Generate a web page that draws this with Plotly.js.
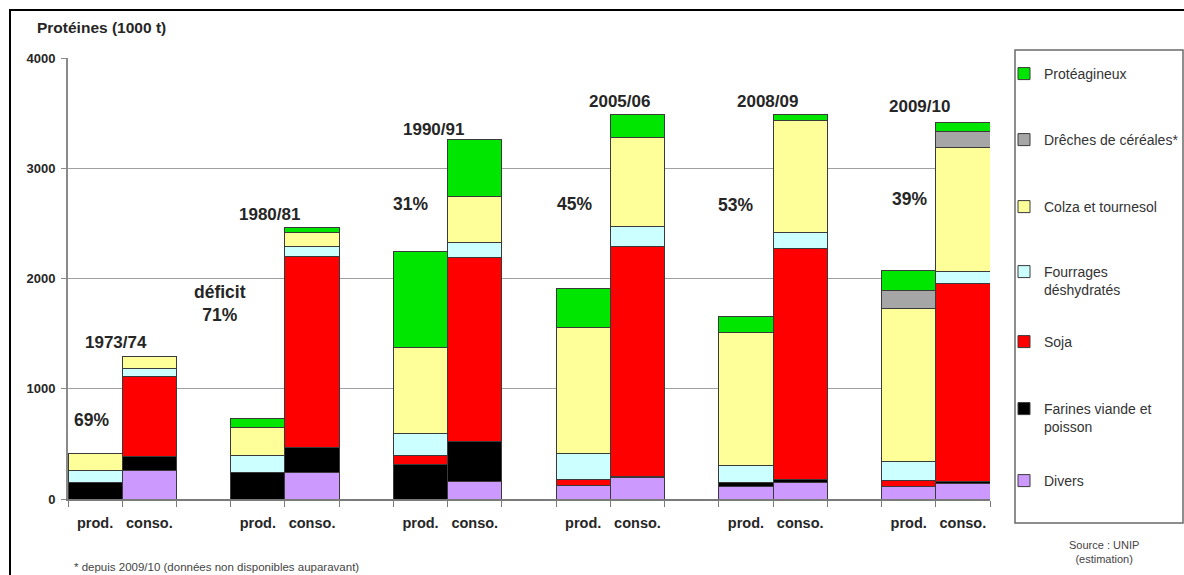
<!DOCTYPE html>
<html>
<head>
<meta charset="utf-8">
<script src="https://cdn.plot.ly/plotly-3.0.1.min.js"></script>
<style>html,body{margin:0;padding:0;background:#fff;}#chart{width:1184px;height:575px;}</style>
</head>
<body>
<div id="chart"></div>
<script>
// ---- data (order of bars: prod, conso for each campaign) ----
const groups = ['1973/74', '1980/81', '1990/91', '2005/06', '2008/09', '2009/10'];
const sides = ['prod.', 'conso.'];
const percents = ['69%', 'déficit<br>71%', '31%', '45%', '53%', '39%'];

const divers       = [null, 261, null, 242, null, 161, 118, 192, 111, 152, 116, 141];
const farines      = [147, 127, 243, 228, 313, 358, null, 15, 41, 25, null, 18];
const soja         = [null, 725, null, 1731, 81, 1668, 59, 2085, null, 2094, 52, 1795];
const fourrages    = [114, 70, 151, 91, 197, 136, 235, 181, 152, 142, 169, 111];
const colza        = [151, 112, 251, 121, 780, 417, 1140, 802, 1203, 1021, 1387, 1125];
const dreches      = [null, null, null, null, null, null, null, null, null, null, 169, 139];
const proteagineux = [null, null, 82, 46, 876, 519, 354, 211, 145, 52, 181, 82];

const seriesNames = ['Divers', 'Farines viande et<br>poisson', 'Soja', 'Fourrages<br>déshydratés',
                     'Colza et tournesol', 'Drêches de céréales*', 'Protéagineux'];
const seriesValues = [divers, farines, soja, fourrages, colza, dreches, proteagineux];
const seriesColors = ['#CC99FF', '#000000', '#FF0000', '#CCFFFF', '#FFFF99', '#A6A6A6', '#00E600'];

// ---- layout helpers ----
const W = 1184, H = 575, L = 68, R = 194, T = 58, B = 76;
const PW = W - L - R, PH = H - T - B;
const px2x = px => (px - L) / PW;          // paper x from pixel
const py2y = py => (H - B - py) / PH;      // paper y from pixel

const slot = (i) => 3 * Math.floor(i / 2) + (i % 2);   // category index of bar i
const xs = divers.map((_, i) => slot(i));
const tickText = xs.map((_, i) => sides[i % 2]);
const boundaries = [];
for (let k = 0; k <= 17; k++) boundaries.push(k - 0.5);

const FONT = '"Liberation Sans", Arial, sans-serif';

// first-line vertical position (px) of each legend entry: Divers ... Protéagineux
const legendLines = [481, 409, 342, 272, 207, 140, 74];
const traces = seriesValues.map((vals, k) => ({
  type: 'bar',
  x: xs,
  y: vals,
  name: seriesNames[k],
  width: 1,
  marker: {color: seriesColors[k], line: {color: '#3a3a3a', width: 1}},
  legend: k === 0 ? 'legend' : 'legend' + (k + 1),
  showlegend: true,
  hoverinfo: 'name+y'
}));

const layout = {
  width: W, height: H,
  showlegend: true,
  margin: {l: L, r: R, t: T, b: B, pad: 0, autoexpand: false},
  paper_bgcolor: '#ffffff',
  plot_bgcolor: '#ffffff',
  barmode: 'stack',
  bargap: 0,
  font: {family: FONT, color: '#222222'},
  xaxis: {
    range: [-0.5, 16.5],
    tickmode: 'array',
    tickvals: xs,
    ticktext: tickText,
    ticks: '',
    ticklabelstandoff: 10,
    tickfont: {family: FONT, size: 14.5, weight: 'bold', color: '#262626'},
    showline: true, linecolor: '#7a7a7a', linewidth: 2,
    showgrid: false, zeroline: false,
    minor: {tickmode: 'array', tickvals: boundaries, ticks: 'outside', ticklen: 6,
            tickcolor: '#7a7a7a', tickwidth: 1, showgrid: false}
  },
  yaxis: {
    range: [0, 4000],
    tickmode: 'array',
    tickvals: [0, 1000, 2000, 3000, 4000],
    ticks: 'outside', ticklen: 5, tickcolor: '#8a8a8a',
    ticklabelstandoff: 3,
    tickfont: {family: FONT, size: 13, weight: 'bold', color: '#262626'},
    showline: true, linecolor: '#8a8a8a', linewidth: 2,
    showgrid: true, gridcolor: '#a0a0a0', gridwidth: 1,
    zeroline: false
  },
  annotations: [],
  shapes: [
    // outer frame (only top and left edges fall inside the picture)
    {type: 'rect', xref: 'paper', yref: 'paper', x0: px2x(10), x1: px2x(1230), y0: py2y(620), y1: py2y(10),
     line: {color: '#000000', width: 2}, fillcolor: 'rgba(0,0,0,0)', layer: 'below'},
    // legend box
    {type: 'rect', xref: 'paper', yref: 'paper', x0: px2x(1015), x1: px2x(1183), y0: py2y(523), y1: py2y(50),
     line: {color: '#6a6a6a', width: 1.5}, fillcolor: 'rgba(0,0,0,0)'}
  ]
};

// one legend per series so every entry sits where it does in the original
seriesNames.forEach((name, k) => {
  const key = k === 0 ? 'legend' : 'legend' + (k + 1);
  const twoLines = name.indexOf('<br>') >= 0;
  layout[key] = {
    x: px2x(1004), xanchor: 'left',
    y: py2y(legendLines[k] + (twoLines ? 9 : 0)), yanchor: 'middle',
    bgcolor: 'rgba(0,0,0,0)', borderwidth: 0,
    valign: 'top',
    font: {family: FONT, size: 14, color: '#333333'},
    itemclick: false, itemdoubleclick: false
  };
});

// axis title
layout.annotations.push({
  xref: 'paper', yref: 'paper', x: px2x(35), y: py2y(28), xanchor: 'left', yanchor: 'middle',
  text: 'Protéines (1000 t)', showarrow: false,
  font: {family: FONT, size: 15.5, weight: 'bold', color: '#262626'}
});

// campaign labels and percentages (positions relative to each group)
const yearPos = [[0.385, 1419], [3.215, 2579], [6.248, 3350], [9.66, 3604], [12.39, 3604], [15.2, 3558]];
const pctPos  = [[-0.058, 721], [2.30, 1777], [5.81, 2679], [8.83, 2679], [11.8, 2670], [15.02, 2724]];
groups.forEach((g, j) => {
  layout.annotations.push({
    x: yearPos[j][0], y: yearPos[j][1], xref: 'x', yref: 'y', text: g, showarrow: false,
    font: {family: FONT, size: 17, weight: 'bold', color: '#262626'}
  });
  layout.annotations.push({
    x: pctPos[j][0], y: pctPos[j][1], xref: 'x', yref: 'y', text: percents[j], showarrow: false,
    font: {family: FONT, size: 17.5, weight: 'bold', color: '#262626'}
  });
});

// source and footnote
layout.annotations.push({
  xref: 'paper', yref: 'paper', x: px2x(1104), y: py2y(552), xanchor: 'center', yanchor: 'middle',
  text: 'Source : UNIP<br>(estimation)', showarrow: false,
  font: {family: FONT, size: 11, color: '#444444'}
});
layout.annotations.push({
  xref: 'paper', yref: 'paper', x: px2x(72), y: py2y(567), xanchor: 'left', yanchor: 'middle',
  text: '* depuis 2009/10 (données non disponibles auparavant)', showarrow: false,
  font: {family: FONT, size: 11.5, color: '#444444'}
});

Plotly.newPlot('chart', traces, layout, {displayModeBar: false, staticPlot: true});
</script>
</body>
</html>
